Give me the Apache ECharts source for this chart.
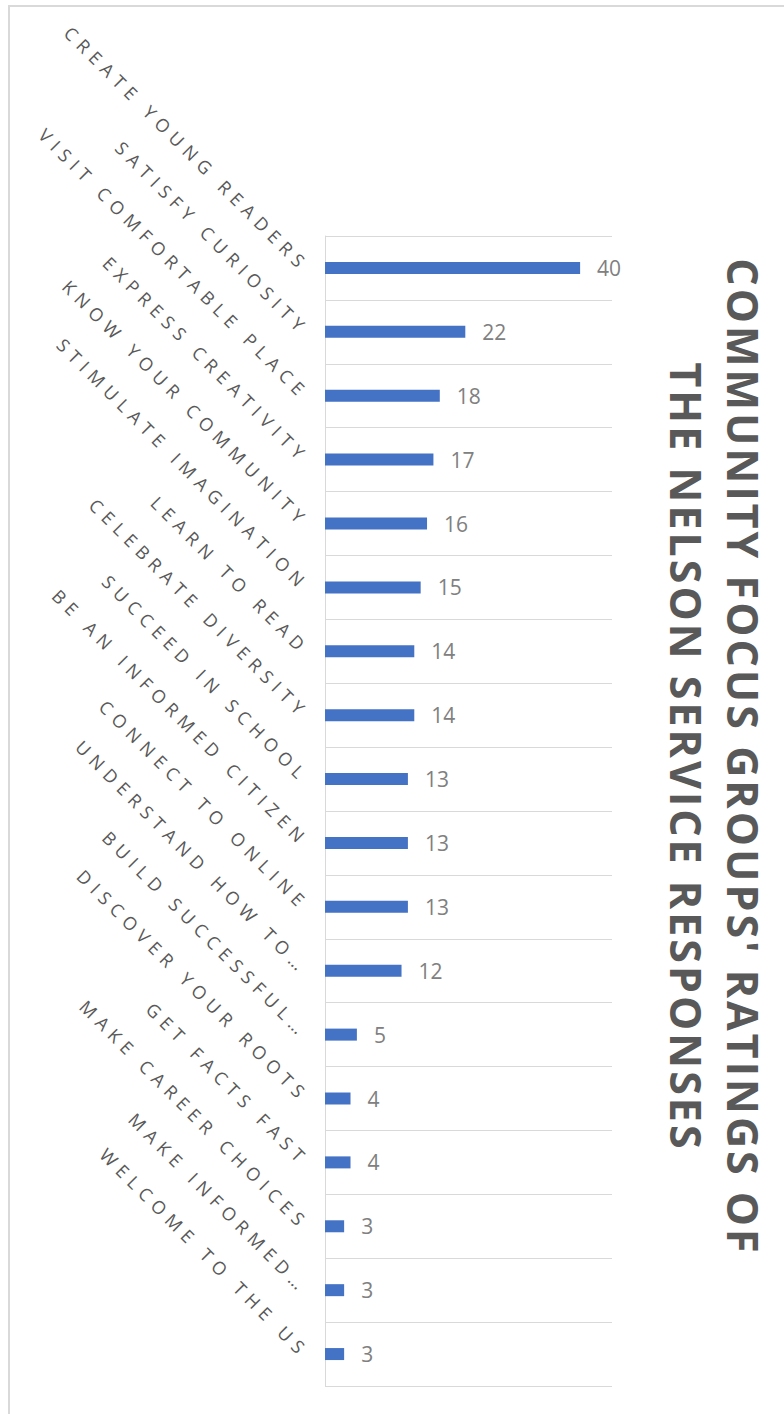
<!DOCTYPE html>
<html>
<head>
<meta charset="utf-8">
<script src="https://cdn.jsdelivr.net/npm/echarts@6/dist/echarts.min.js"></script>
<style>
  html, body { margin: 0; padding: 0; background: #fff; }
  #chart { width: 784px; height: 1414px; }
</style>
</head>
<body>
<div id="chart"></div>
<script>
const categories = [
  'CREATE YOUNG READERS', 'SATISFY CURIOSITY', 'VISIT COMFORTABLE PLACE',
  'EXPRESS CREATIVITY', 'KNOW YOUR COMMUNITY', 'STIMULATE IMAGINATION',
  'LEARN TO READ', 'CELEBRATE DIVERSITY', 'SUCCEED IN SCHOOL',
  'BE AN INFORMED CITIZEN', 'CONNECT TO ONLINE', 'UNDERSTAND HOW TO…',
  'BUILD SUCCESSFUL…', 'DISCOVER YOUR ROOTS', 'GET FACTS FAST',
  'MAKE CAREER CHOICES', 'MAKE INFORMED…', 'WELCOME TO THE US'
];
const responses = [40, 22, 18, 17, 16, 15, 14, 14, 13, 13, 13, 12, 5, 4, 4, 3, 3, 3];
const titleLines = ["COMMUNITY FOCUS GROUPS' RATINGS OF", 'THE NELSON SERVICE RESPONSES'];

const chart = echarts.init(document.getElementById('chart'), null, { renderer: 'svg' });

const option = {
  animation: false,
  backgroundColor: '#fff',
  grid: { left: 325, top: 236, width: 287, height: 1150, containLabel: false },
  graphic: [
    {
      type: 'rect', silent: true,
      shape: { x: 9, y: 6, width: 900, height: 1500 },
      style: { fill: 'none', stroke: '#d9d9d9', lineWidth: 2 }
    },
    {
      type: 'text', x: 743, y: 757, rotation: -Math.PI / 2,
      style: {
        text: titleLines[0], align: 'center', verticalAlign: 'middle',
        fill: '#595959', font: 'bold 43px "Open Sans"'
      }
    },
    {
      type: 'text', x: 686, y: 757, rotation: -Math.PI / 2,
      style: {
        text: titleLines[1], align: 'center', verticalAlign: 'middle',
        fill: '#595959', font: 'bold 43px "Open Sans"'
      }
    }
  ],
  xAxis: {
    type: 'value', min: 0, max: 45,
    axisLine: { show: false }, axisTick: { show: false },
    axisLabel: { show: false }, splitLine: { show: false }
  },
  yAxis: {
    type: 'category', inverse: true, data: categories,
    axisLine: { show: true, lineStyle: { color: '#d9d9d9', width: 1 } },
    axisTick: { show: false },
    splitLine: { show: true, lineStyle: { color: '#d9d9d9', width: 1 } },
    axisLabel: {
      rotate: -45, margin: 19, interval: 0,
      color: '#595959', fontSize: 18, fontFamily: 'Open Sans'
    }
  },
  series: [{
    type: 'bar', data: responses, barWidth: 12,
    itemStyle: { color: '#4472c4' },
    label: {
      show: true, position: 'right', distance: 17,
      color: '#808080', fontSize: 21, fontFamily: 'Open Sans'
    }
  }]
};

chart.setOption(option);

// the picture uses wide tracking; SVG text takes CSS letter-spacing
function spaceText() {
  document.querySelectorAll('#chart text').forEach(t => {
    const s = t.textContent;
    if (categories.includes(s)) t.style.letterSpacing = '6.2px';
    else if (titleLines.includes(s)) t.style.letterSpacing = '3px';
  });
}
chart.on('finished', spaceText);
spaceText();
setTimeout(spaceText, 50);
</script>
</body>
</html>
